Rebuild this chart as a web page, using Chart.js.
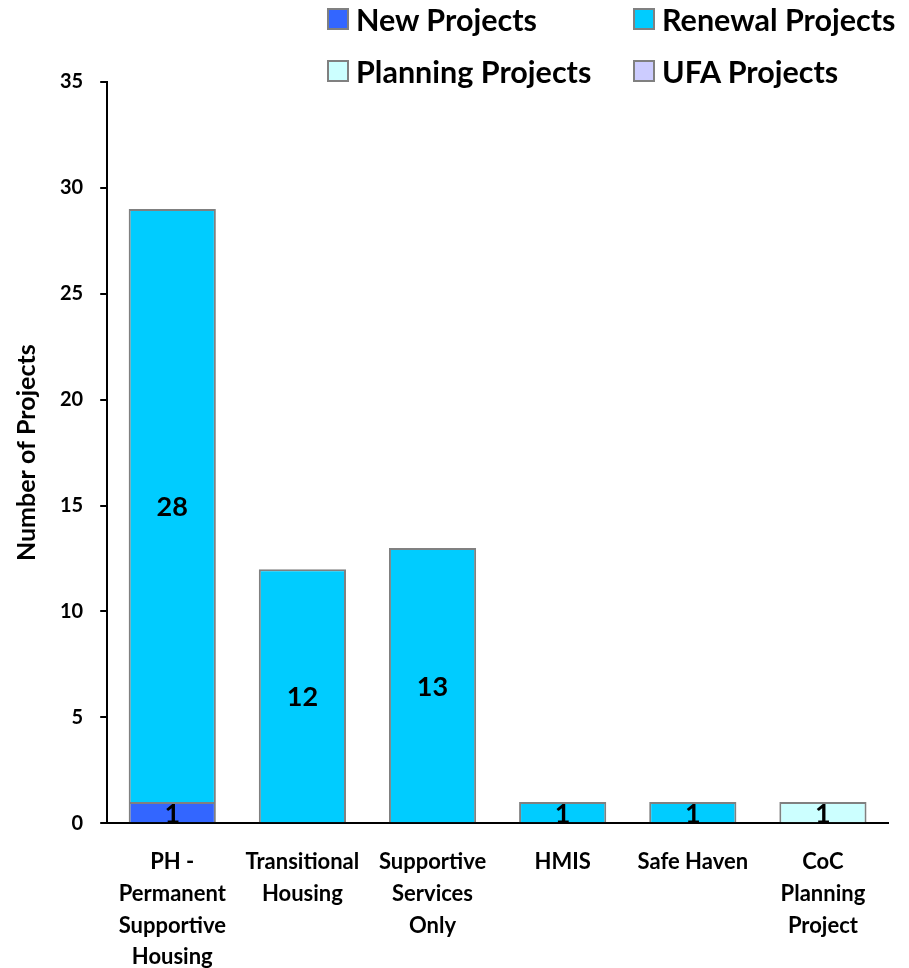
<!DOCTYPE html>
<html>
<head>
<meta charset="utf-8">
<script src="https://cdn.jsdelivr.net/npm/chart.js@4"></script>
<style>
  body { margin: 0; background: #fff; overflow: hidden; }
  #wrap { position: relative; width: 909px; height: 968px; overflow: hidden; }
  #legend { position: absolute; left: 327px; top: 1px; display: grid;
    grid-template-columns: 306px 270px; row-gap: 16px;
    font-family: Lato, sans-serif; font-weight: bold; font-size: 30.5px; color: #000; }
  .item { display: flex; align-items: center; height: 36px; white-space: nowrap; }
  .box { width: 22px; height: 22px; border: 2px solid #808080; margin-right: 7px; box-sizing: border-box; }
</style>
</head>
<body>
<div id="wrap">
  <canvas id="projects" width="909" height="996"></canvas>
  <div id="legend"></div>
</div>
<script>
const categories = [
  ["PH -", "Permanent", "Supportive", "Housing"],
  ["Transitional", "Housing"],
  ["Supportive", "Services", "Only"],
  ["HMIS"],
  ["Safe Haven"],
  ["CoC", "Planning", "Project"]
];
const newProjects      = [1, 0, 0, 0, 0, 0];
const renewalProjects  = [28, 12, 13, 1, 1, 0];
const planningProjects = [0, 0, 0, 0, 0, 1];
const ufaProjects      = [0, 0, 0, 0, 0, 0];

const seriesNames  = ["New Projects", "Renewal Projects", "Planning Projects", "UFA Projects"];
const seriesColors = ["#3366FF", "#00CCFF", "#CCFFFF", "#CCCCFF"];
const seriesData   = [newProjects, renewalProjects, planningProjects, ufaProjects];

const FONT = "Lato, sans-serif";

// draws the value in the middle of every non-zero segment
const barLabels = {
  id: "barLabels",
  afterDatasetsDraw(chart) {
    const ctx = chart.ctx;
    ctx.save();
    ctx.font = "bold 27px " + FONT;
    ctx.fillStyle = "#000";
    ctx.textAlign = "center";
    ctx.textBaseline = "middle";
    chart.data.datasets.forEach((ds, i) => {
      chart.getDatasetMeta(i).data.forEach((bar, j) => {
        if (!ds.data[j]) return;
        ctx.fillText(ds.data[j], bar.x, (bar.y + bar.base) / 2 + 2);
      });
    });
    ctx.restore();
  }
};

new Chart(document.getElementById("projects"), {
  type: "bar",
  data: {
    labels: categories,
    datasets: seriesNames.map((name, i) => ({
      label: name,
      data: seriesData[i],
      backgroundColor: seriesColors[i],
      borderColor: "#808080",
      borderWidth: 2,
      barPercentage: 0.67,
      categoryPercentage: 1
    }))
  },
  options: {
    responsive: false,
    animation: false,
    layout: { padding: { top: 82, right: 21, left: 0, bottom: 0 } },
    plugins: {
      legend: { display: false },
      tooltip: { enabled: false }
    },
    scales: {
      x: {
        stacked: true,
        grid: { display: false, drawTicks: false },
        border: { color: "#000", width: 2 },
        ticks: {
          color: "#000", padding: 23, maxRotation: 0, autoSkip: false,
          font: { family: FONT, weight: "bold", size: 22, lineHeight: 1.44 }
        }
      },
      y: {
        stacked: true,
        min: 0, max: 35,
        grid: { drawOnChartArea: false, drawTicks: true, tickLength: 7, color: "#000", lineWidth: 2 },
        border: { color: "#000", width: 2 },
        ticks: {
          stepSize: 5, color: "#000", padding: 17,
          font: { family: FONT, weight: "bold", size: 20 }
        },
        title: {
          display: true, text: "Number of Projects", color: "#000", padding: { top: 12, bottom: 1 },
          font: { family: FONT, weight: "bold", size: 25 }
        }
      }
    }
  },
  plugins: [barLabels]
});

const legend = document.getElementById("legend");
seriesNames.forEach((name, i) => {
  const item = document.createElement("div");
  item.className = "item";
  const box = document.createElement("span");
  box.className = "box";
  box.style.background = seriesColors[i];
  item.appendChild(box);
  item.appendChild(document.createTextNode(name));
  legend.appendChild(item);
});
</script>
</body>
</html>
